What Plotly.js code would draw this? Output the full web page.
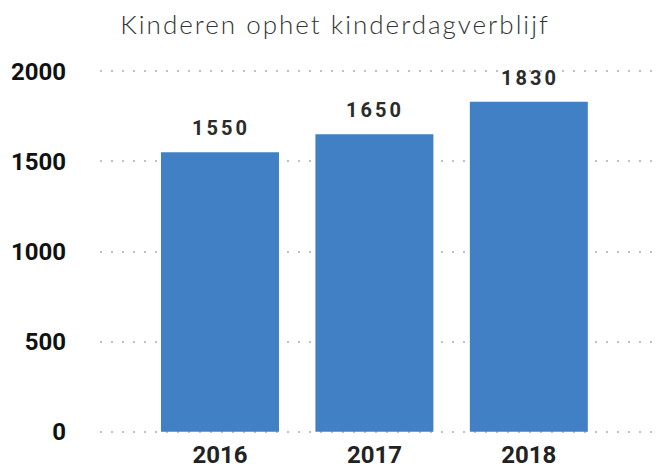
<!DOCTYPE html>
<html>
<head>
<meta charset="utf-8">
<script src="https://cdn.plot.ly/plotly-3.0.1.min.js"></script>
<style>
html,body{margin:0;padding:0;background:#fff;}
#chart{width:657px;height:475px;}
.annotation-text{letter-spacing:3px;}
.gtitle{letter-spacing:2px;}
</style>
</head>
<body>
<div id="chart"></div>
<script>
const years = ['2016', '2017', '2018'];
const children = [1550, 1650, 1830];
const yTicks = [0, 500, 1000, 1500, 2000];
const titleText = 'Kinderen ophet kinderdagverblijf';

const trace = {
  type: 'bar',
  x: years,
  y: children,
  marker: {color: '#4180C4'},
  hoverinfo: 'none'
};

const annotations = years.map((yr, i) => ({
  x: i,
  y: children[i],
  xref: 'x', yref: 'y',
  text: String(children[i]),
  showarrow: false,
  xanchor: 'center',
  yanchor: 'bottom',
  yshift: 10,
  xshift: 1,
  font: {family: 'Roboto, sans-serif', size: 20, weight: 'bold', color: '#2b2b2b'}
}));

const layout = {
  width: 657,
  height: 475,
  margin: {l: 100, r: 0, t: 69, b: 41},
  paper_bgcolor: '#fff',
  plot_bgcolor: '#fff',
  showlegend: false,
  bargap: 0.236,
  annotations: annotations,
  title: {
    text: titleText,
    font: {family: 'Lato, sans-serif', size: 26, weight: 300, color: '#333'},
    x: 0.51, xanchor: 'center',
    y: 0.948, yanchor: 'middle'
  },
  xaxis: {
    type: 'category',
    range: [-0.777, 2.83],
    showgrid: false,
    showline: false,
    zeroline: false,
    ticks: '',
    ticklabelstandoff: 4,
    tickfont: {family: 'Roboto, sans-serif', size: 24, weight: 'bold', color: '#222'}
  },
  yaxis: {
    range: [-12, 2012],
    tickvals: yTicks,
    ticktext: yTicks.map(String),
    showgrid: true,
    gridcolor: '#c0c0c0',
    gridwidth: 2,
    griddash: '2px,9px',
    zeroline: false,
    showline: false,
    ticks: '',
    ticklabelstandoff: 33,
    tickfont: {family: 'Roboto, sans-serif', size: 24, weight: 'bold', color: '#111'}
  }
};

Plotly.newPlot('chart', [trace], layout, {displayModeBar: false, staticPlot: true});
</script>
</body>
</html>
